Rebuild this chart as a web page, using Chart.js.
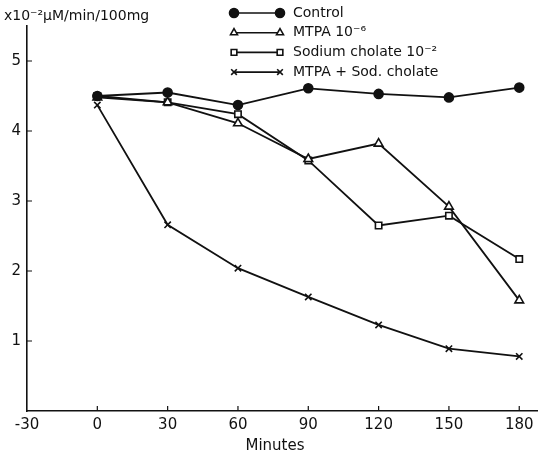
<!DOCTYPE html>
<html>
<head>
<meta charset="utf-8">
<script src="https://cdn.jsdelivr.net/npm/chart.js@4"></script>
<style>
    html, body { margin: 0; padding: 0; background: #fff; }
    #wrap { width: 538px; height: 456px; position: relative; }
</style>
</head>
<body>
<div id="wrap"><canvas id="chart"></canvas></div>
<script>
const minutes = [0, 30, 60, 90, 120, 150, 180];
const control = [4.5, 4.55, 4.37, 4.61, 4.53, 4.48, 4.62];
const mtpa = [4.48, 4.41, 4.11, 3.6, 3.82, 2.92, 1.58];
const cholate = [4.5, 4.41, 4.24, 3.58, 2.65, 2.79, 2.17];
const combined = [4.37, 2.66, 2.04, 1.63, 1.23, 0.89, 0.78];

const xTicks = [-30, 0, 30, 60, 90, 120, 150, 180];
const yTicks = [1, 2, 3, 4, 5];

const legendItems = [
    { text: 'Control', style: 'circle', fill: true },
    { text: 'MTPA 10\u207B\u2076', style: 'triangle', fill: false },
    { text: 'Sodium cholate 10\u207B\u00B2', style: 'rect', fill: false },
    { text: 'MTPA + Sod. cholate', style: 'crossRot', fill: false },
];

const ink = '#111';
const fontFamily = '"DejaVu Sans", sans-serif';

function series(data, style, radius, fill) {
    return {
        data: minutes.map((m, i) => ({ x: m, y: data[i] })),
        borderColor: ink,
        borderWidth: 1.8,
        pointStyle: style,
        pointRadius: radius,
        pointBorderWidth: 1.6,
        pointBorderColor: ink,
        pointBackgroundColor: fill ? ink : '#fff',
        tension: 0,
        clip: false,
    };
}

// inward tick marks, unit label, legend and axis title
const decorations = {
    id: 'decorations',
    afterDraw(chart) {
        const { ctx, scales } = chart;
        const x = scales.x;
        const y = scales.y;
        ctx.save();
        ctx.strokeStyle = ink;
        ctx.lineWidth = 1.2;
        ctx.beginPath();
        xTicks.slice(1).forEach((v) => {
            const px = x.getPixelForValue(v);
            ctx.moveTo(px, y.bottom);
            ctx.lineTo(px, y.bottom - 5);
        });
        yTicks.forEach((v) => {
            const py = y.getPixelForValue(v);
            ctx.moveTo(x.left, py);
            ctx.lineTo(x.left + 5, py);
        });
        ctx.stroke();

        ctx.fillStyle = ink;
        ctx.textBaseline = 'middle';
        ctx.font = '14px ' + fontFamily;
        ctx.textAlign = 'left';
        ctx.fillText('x10\u207B\u00B2\u00B5M/min/100mg', 4, 16);

        legendItems.forEach((item, i) => {
            const ly = 13 + i * 19.7;
            const x0 = 234;
            const x1 = 280;
            ctx.lineWidth = 1.6;
            ctx.beginPath();
            ctx.moveTo(x0, ly);
            ctx.lineTo(x1, ly);
            ctx.stroke();
            const opts = {
                pointStyle: item.style,
                radius: item.style === 'circle' ? 4.5 : 4,
                rotation: 0,
                borderWidth: 1.5,
            };
            [x0, x1].forEach((px) => {
                ctx.fillStyle = item.fill ? ink : '#fff';
                Chart.helpers.drawPoint(ctx, opts, px, ly);
            });
            ctx.fillStyle = ink;
            ctx.fillText(item.text, 293, ly);
        });

        ctx.textAlign = 'center';
        ctx.font = '15px ' + fontFamily;
        ctx.fillText('Minutes', 275, 446);
        ctx.restore();
    },
};

new Chart(document.getElementById('chart'), {
    type: 'line',
    data: {
        datasets: [
            series(control, 'circle', 4.5, true),
            series(mtpa, 'triangle', 5, false),
            series(cholate, 'rect', 4.5, false),
            series(combined, 'crossRot', 4.5, false),
        ],
    },
    options: {
        responsive: true,
        maintainAspectRatio: false,
        animation: false,
        layout: {
            autoPadding: false,
            padding: { top: 26, right: 0, left: 0, bottom: 0 },
        },
        plugins: {
            legend: { display: false },
            tooltip: { enabled: false },
        },
        scales: {
            x: {
                type: 'linear',
                min: -30,
                max: 188,
                afterBuildTicks(scale) {
                    scale.ticks = xTicks.map((v) => ({ value: v }));
                },
                afterFit(scale) {
                    scale.height = 45;
                    scale.paddingLeft = 0;
                    scale.paddingRight = 0;
                },
                grid: { display: false, drawTicks: false },
                border: { display: true, color: ink, width: 1.6 },
                ticks: {
                    color: ink,
                    padding: 5,
                    maxRotation: 0,
                    font: { family: fontFamily, size: 15 },
                },
            },
            y: {
                type: 'linear',
                min: 0,
                max: 5.5,
                afterBuildTicks(scale) {
                    scale.ticks = yTicks.map((v) => ({ value: v }));
                },
                afterFit(scale) {
                    scale.width = 27;
                },
                grid: { display: false, drawTicks: false },
                border: { display: true, color: ink, width: 1.6 },
                ticks: {
                    color: ink,
                    padding: 6,
                    font: { family: fontFamily, size: 15 },
                },
            },
        },
    },
    plugins: [decorations],
});
</script>
</body>
</html>
